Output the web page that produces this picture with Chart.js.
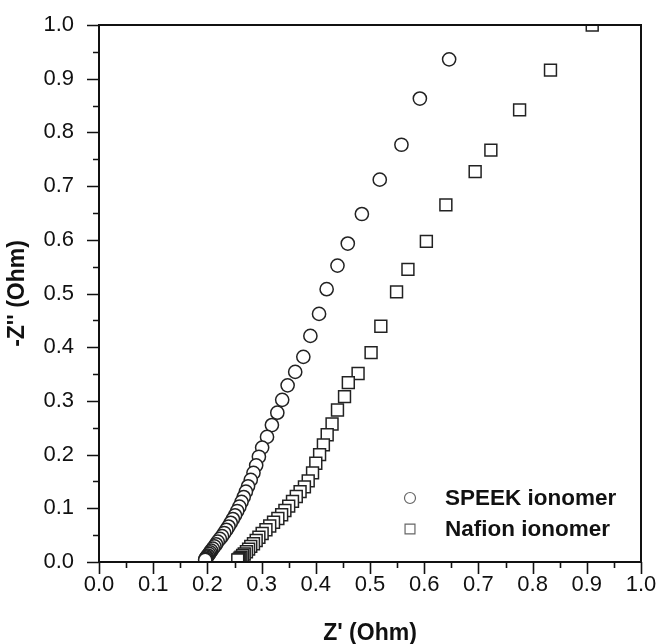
<!DOCTYPE html>
<html>
<head>
<meta charset="utf-8">
<script src="https://cdn.jsdelivr.net/npm/chart.js@4.4.1/dist/chart.umd.min.js"></script>
<style>
  html, body { margin: 0; padding: 0; background: #fff; }
  #wrap { width: 657px; height: 644px; }
</style>
</head>
<body>
<div id="wrap"><canvas id="nyquistChart" width="657" height="644"></canvas></div>
<script>
// Data (Z' and -Z'' in Ohm)
const speekX = [0.646, 0.592, 0.558, 0.518, 0.485, 0.459, 0.440, 0.420, 0.406, 0.390,
    0.377, 0.362, 0.348, 0.338, 0.329, 0.319, 0.310, 0.301, 0.295, 0.290,
    0.285, 0.280, 0.275, 0.271, 0.267, 0.263, 0.259, 0.255, 0.251, 0.247,
    0.243, 0.239, 0.235, 0.231, 0.227, 0.223, 0.219, 0.216, 0.213, 0.210,
    0.207, 0.205, 0.203, 0.201, 0.199, 0.198, 0.197, 0.196, 0.196];
const speekY = [0.936, 0.863, 0.777, 0.712, 0.648, 0.593, 0.552, 0.508, 0.462, 0.421,
    0.382, 0.354, 0.329, 0.302, 0.278, 0.255, 0.233, 0.213, 0.196, 0.180,
    0.166, 0.153, 0.141, 0.131, 0.121, 0.112, 0.103, 0.095, 0.087, 0.080,
    0.073, 0.066, 0.060, 0.054, 0.048, 0.043, 0.038, 0.033, 0.029, 0.025,
    0.021, 0.018, 0.015, 0.012, 0.010, 0.008, 0.006, 0.005, 0.004];

const nafionX = [0.910, 0.833, 0.776, 0.723, 0.694, 0.640, 0.604, 0.570, 0.549, 0.520,
    0.502, 0.478, 0.460, 0.453, 0.440, 0.430, 0.421, 0.414, 0.407, 0.400,
    0.394, 0.386, 0.379, 0.371, 0.364, 0.357, 0.350, 0.343, 0.337, 0.330,
    0.322, 0.315, 0.308, 0.301, 0.295, 0.290, 0.285, 0.280, 0.276, 0.272,
    0.268, 0.265, 0.262, 0.260, 0.258, 0.256];
const nafionY = [1.000, 0.916, 0.842, 0.767, 0.727, 0.665, 0.597, 0.545, 0.503, 0.439,
    0.390, 0.351, 0.334, 0.308, 0.283, 0.257, 0.237, 0.218, 0.200, 0.184,
    0.166, 0.151, 0.140, 0.131, 0.122, 0.113, 0.104, 0.096, 0.088, 0.081,
    0.074, 0.067, 0.060, 0.053, 0.046, 0.040, 0.034, 0.029, 0.024, 0.019,
    0.015, 0.012, 0.009, 0.007, 0.005, 0.004];

const seriesNames = ['SPEEK ionomer', 'Nafion ionomer'];
const xTitle = "Z' (Ohm)";
const yTitle = "-Z'' (Ohm)";

function toPoints(xs, ys) {
    return xs.map((x, i) => ({ x: x, y: ys[i] }));
}

const fontFamily = "'Liberation Sans', Arial, sans-serif";

// frame + major/minor outward ticks
const frameTicks = {
    id: 'frameTicks',
    afterDatasetsDraw(chart) {
        const { ctx, chartArea: a, scales: { x, y } } = chart;
        ctx.save();
        ctx.strokeStyle = '#111';
        ctx.lineWidth = 2;
        ctx.strokeRect(a.left, a.top, a.right - a.left, a.bottom - a.top);
        ctx.lineWidth = 1.6;
        ctx.beginPath();
        for (let i = 0; i <= 20; i++) {
            const v = i * 0.05;
            const len = i % 2 === 0 ? 12 : 6;
            const px = Math.round(x.getPixelForValue(v)) + 0.5;
            ctx.moveTo(px, a.bottom);
            ctx.lineTo(px, a.bottom + len);
            const py = Math.round(y.getPixelForValue(v)) + 0.5;
            ctx.moveTo(a.left, py);
            ctx.lineTo(a.left - len, py);
        }
        ctx.stroke();
        ctx.restore();
    }
};

// legend inside the plot, lower right
const insideLegend = {
    id: 'insideLegend',
    afterDraw(chart) {
        const { ctx, chartArea: a } = chart;
        const rows = [
            { y: a.bottom - 64, style: 'circle' },
            { y: a.bottom - 33, style: 'rect' }
        ];
        ctx.save();
        ctx.font = 'bold 22.5px ' + fontFamily;
        ctx.textBaseline = 'middle';
        rows.forEach((r, i) => {
            ctx.strokeStyle = '#666';
            ctx.lineWidth = 1.2;
            ctx.fillStyle = '#fff';
            Chart.helpers.drawPoint(ctx, { pointStyle: r.style, radius: r.style === 'rect' ? 7 : 5.5, borderWidth: 1.2 }, a.left + 311, r.y);
            ctx.fillStyle = '#111';
            ctx.fillText(seriesNames[i], a.left + 346, r.y + 1);
        });
        ctx.restore();
    }
};

// keep tick labels from pushing the plot area inward
function noLabelPadding(s) {
    s.paddingLeft = 0;
    s.paddingRight = 0;
    s.paddingTop = 0;
    s.paddingBottom = 0;
}

const config = {
    type: 'scatter',
    data: {
        datasets: [
            {
                label: seriesNames[0],
                data: toPoints(speekX, speekY),
                pointStyle: 'circle',
                pointRadius: 6.6,
                pointBorderWidth: 1.5,
                pointBorderColor: '#222',
                pointBackgroundColor: '#fff'
            },
            {
                label: seriesNames[1],
                data: toPoints(nafionX, nafionY),
                pointStyle: 'rect',
                pointRadius: 8.4,
                pointBorderWidth: 1.5,
                pointBorderColor: '#222',
                pointBackgroundColor: '#fff'
            }
        ]
    },
    options: {
        responsive: false,
        animation: false,
        layout: { padding: { top: 25, right: 16, left: 0, bottom: 0 } },
        plugins: {
            legend: { display: false },
            tooltip: { enabled: false }
        },
        scales: {
            x: {
                type: 'linear',
                min: 0,
                max: 1,
                grid: { display: false, drawTicks: false },
                border: { display: false },
                ticks: {
                    stepSize: 0.1,
                    padding: 10,
                    color: '#111',
                    font: { family: fontFamily, size: 22 },
                    callback: v => v.toFixed(1)
                },
                title: {
                    display: true,
                    text: xTitle,
                    color: '#111',
                    font: { family: fontFamily, size: 23, weight: 'bold' },
                    padding: { top: 0, bottom: -3 }
                },
                afterFit: s => { s.height = 82; noLabelPadding(s); }
            },
            y: {
                type: 'linear',
                min: 0,
                max: 1,
                grid: { display: false, drawTicks: false },
                border: { display: false },
                ticks: {
                    stepSize: 0.1,
                    padding: 25,
                    color: '#111',
                    font: { family: fontFamily, size: 22 },
                    callback: v => v.toFixed(1)
                },
                title: {
                    display: true,
                    text: yTitle,
                    color: '#111',
                    font: { family: fontFamily, size: 23, weight: 'bold' },
                    padding: { top: 4, bottom: 0 }
                },
                afterFit: s => { s.width = 99; noLabelPadding(s); }
            }
        }
    },
    plugins: [frameTicks, insideLegend]
};

window.onload = function() {
    const ctx = document.getElementById('nyquistChart').getContext('2d');
    new Chart(ctx, config);
};
</script>
</body>
</html>
